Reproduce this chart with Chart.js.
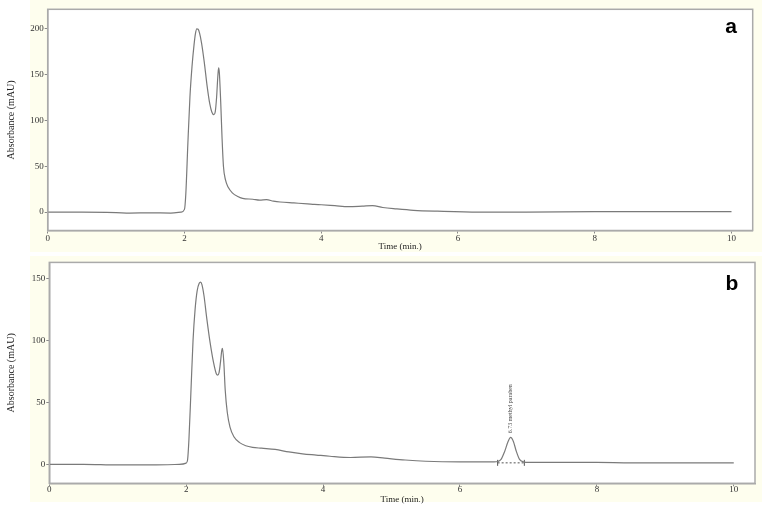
<!DOCTYPE html>
<html>
<head>
<meta charset="utf-8">
<script src="https://cdn.jsdelivr.net/npm/chart.js@4.4.0/dist/chart.umd.min.js"></script>
<style>
html, body { margin: 0; padding: 0; background: #fff; }
.panel { position: absolute; left: 0; width: 762px; }
</style>
</head>
<body>
<div class="panel" style="top:0;height:256px"><canvas id="chartA"></canvas></div>
<div class="panel" style="top:256px;height:257px"><canvas id="chartB"></canvas></div>
<script>
// chromatogram a
var timeA = [0, 0.5, 1.0, 1.2, 1.5, 1.8, 1.95, 2.0, 2.02, 2.05, 2.08, 2.11, 2.14, 2.16, 2.18, 2.20, 2.22, 2.25, 2.29, 2.33, 2.37, 2.40, 2.43, 2.45, 2.47, 2.49, 2.50, 2.51, 2.53, 2.55, 2.57, 2.60, 2.64, 2.70, 2.78, 2.85, 3.0, 3.1, 3.2, 3.3, 3.4, 3.6, 3.8, 3.9, 4.0, 4.2, 4.4, 4.6, 4.75, 4.9, 5.1, 5.35, 5.7, 6.3, 7, 8, 9, 10];
var absA  = [0, 0, -0.5, -1, -0.8, -1, 0, 3, 20, 75, 125, 158, 182, 194, 199.5, 199, 195, 184, 163, 138, 118, 109, 106, 109, 125, 150, 157, 152, 120, 80, 50, 35, 27, 21, 17, 15, 14, 13, 13.5, 12, 11, 10, 9, 8.4, 8, 7, 6, 6.5, 7, 5, 3.5, 2, 1, 0, 0, 0.5, 0.5, 0.5];

// chromatogram b
var timeB = [0, 0.5, 1.0, 1.5, 1.9, 2.0, 2.02, 2.04, 2.07, 2.10, 2.13, 2.16, 2.19, 2.21, 2.23, 2.26, 2.30, 2.35, 2.40, 2.44, 2.46, 2.48, 2.50, 2.52, 2.53, 2.55, 2.57, 2.60, 2.64, 2.70, 2.78, 2.87, 2.97, 3.1, 3.3, 3.5, 3.7, 3.9, 4.1, 4.4, 4.7, 4.9, 5.2, 5.5, 6.0, 6.4, 6.5, 6.55, 6.6, 6.65, 6.7, 6.74, 6.78, 6.82, 6.87, 6.93, 7.0, 7.5, 8, 8.5, 9, 10];
var absB  = [0, 0, -0.5, -0.5, 0, 1, 3.5, 20, 60, 100, 125, 140, 146, 147, 145, 136, 118, 98, 82, 73, 72, 74, 82, 92, 93.5, 82, 60, 42, 30, 22, 17.5, 15, 13.7, 13, 12, 10, 8.5, 7.5, 6.5, 5.5, 6, 5, 3.5, 2.5, 2, 2, 2, 2.3, 4, 10, 18, 21.8, 18.5, 11, 4, 2, 1.5, 1.5, 1.5, 1.2, 1.2, 1.2];

var peakLabel = '6.73 methyl paraben';
var peakTime = 6.73;
var peakAbs = 21.8;
var baseTime = [6.55, 6.94];
var baseAbs = [1.2, 1.2];

var xTicks = [0, 2, 4, 6, 8, 10];
var yTicksA = [0, 50, 100, 150, 200];
var yTicksB = [0, 50, 100, 150];

var serif = '"Liberation Serif", "Times New Roman", serif';

var framePlugin = {
    id: 'frame',
    beforeDraw: function(chart, args, o) {
        var c = chart.ctx, a = chart.chartArea;
        c.save();
        c.fillStyle = '#fefeee';
        c.fillRect(30, 0, chart.width - 30, o.bgBottom);
        c.fillStyle = '#fff';
        c.fillRect(a.left, a.top, a.right - a.left, a.bottom - a.top);
        c.restore();
    },
    afterDraw: function(chart, args, o) {
        var c = chart.ctx, a = chart.chartArea;
        c.save();
        c.strokeStyle = '#aaa';
        c.lineWidth = 1.5;
        c.strokeRect(a.left, a.top, a.right - a.left, a.bottom - a.top);
        c.fillStyle = '#000';
        c.font = 'bold 21px "Liberation Sans", Arial, sans-serif';
        c.textAlign = 'center';
        c.textBaseline = 'middle';
        c.fillText(o.letter, o.letterX, o.letterY);
        if (o.peak) {
            var px = chart.scales.x.getPixelForValue(peakTime);
            var py = chart.scales.y.getPixelForValue(peakAbs) - 4;
            c.translate(px, py);
            c.rotate(-Math.PI / 2);
            c.font = '6px ' + serif;
            c.fillStyle = '#444';
            c.textAlign = 'left';
            c.fillText(peakLabel, 0, 0);
        }
        c.restore();
    }
};

function makeChart(id, p) {
    var datasets = [{
        data: p.time.map(function(t, i) { return { x: t, y: p.abs[i] }; }),
        borderColor: '#7a7a7a',
        borderWidth: 1.2,
        pointRadius: 0,
        cubicInterpolationMode: 'monotone',
        fill: false
    }];
    if (p.peak) {
        datasets.push({
            data: baseTime.map(function(t, i) { return { x: t, y: baseAbs[i] }; }),
            borderColor: '#555',
            borderWidth: 1,
            borderDash: [2, 2],
            pointStyle: 'line',
            pointRotation: 90,
            pointRadius: 3,
            pointBorderColor: '#555',
            pointBorderWidth: 1
        });
    }
    return new Chart(document.getElementById(id), {
        type: 'line',
        data: { datasets: datasets },
        options: {
            responsive: true,
            maintainAspectRatio: false,
            animation: false,
            layout: { padding: { top: p.padTop, right: p.padRight, left: 0, bottom: 0 } },
            plugins: {
                legend: { display: false },
                tooltip: { enabled: false },
                frame: { letter: p.letter, letterX: p.letterX, letterY: p.letterY, peak: p.peak, bgBottom: p.bgBottom }
            },
            scales: {
                x: {
                    type: 'linear',
                    min: 0,
                    max: 10.31,
                    afterBuildTicks: function(s) { s.ticks = xTicks.map(function(v) { return { value: v }; }); },
                    afterFit: function(s) { s.height = p.xHeight; },
                    grid: { drawOnChartArea: false, tickLength: 3, color: '#888' },
                    border: { color: '#aaa', width: 1.5 },
                    ticks: { autoSkip: false, maxRotation: 0, padding: p.xTickPad, color: '#333', font: { family: serif, size: 9 } },
                    title: { display: true, text: 'Time (min.)', color: '#222', font: { family: serif, size: 9 }, padding: { top: 0, bottom: p.xTitlePad } }
                },
                y: {
                    min: p.yMin,
                    max: p.yMax,
                    afterBuildTicks: function(s) { s.ticks = p.yTicks.map(function(v) { return { value: v }; }); },
                    afterFit: function(s) { s.width = p.yWidth; },
                    grid: { drawOnChartArea: false, tickLength: 3, color: '#888' },
                    border: { color: '#aaa', width: 1.5 },
                    ticks: { padding: 1, color: '#333', font: { family: serif, size: 9 } },
                    title: { display: true, text: 'Absorbance (mAU)', color: '#222', font: { family: serif, size: 10 }, padding: { top: 5, bottom: 0 } }
                }
            }
        },
        plugins: [framePlugin]
    });
}

makeChart('chartA', {
    time: timeA, abs: absA, yTicks: yTicksA, yMin: -20, yMax: 220.7,
    padTop: 9.3, padRight: 9.3, yWidth: 47.7, xHeight: 25.5, xTickPad: 0, xTitlePad: 3.5,
    letter: 'a', letterX: 731, letterY: 27, peak: false, bgBottom: 252
});
makeChart('chartB', {
    time: timeB, abs: absB, yTicks: yTicksB, yMin: -15.3, yMax: 162.9,
    padTop: 6.3, padRight: 7, yWidth: 49.3, xHeight: 29.7, xTickPad: -2, xTitlePad: 7.6,
    letter: 'b', letterX: 732, letterY: 28, peak: true, bgBottom: 246
});
</script>
</body>
</html>
